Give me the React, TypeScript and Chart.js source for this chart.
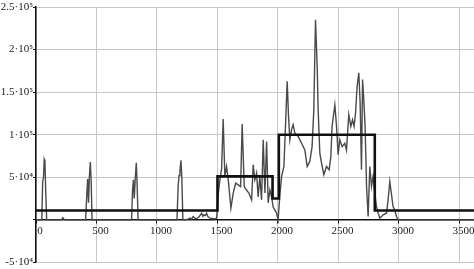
import React, { useEffect, useRef } from "react";
import { Chart, registerables } from "chart.js";

Chart.register(...registerables);

// Measured signal (gray trace)
const signalX = [
  0, 48, 55, 62, 68, 74, 80, 88, 210, 222, 235,
  410, 420, 427, 434, 441, 449, 456, 463,
  790, 798, 805, 812, 820, 829, 836, 844,
  1165, 1175, 1182, 1190, 1198, 1205, 1214,
  1240, 1260, 1272, 1285, 1299, 1313, 1327, 1345, 1360, 1369, 1380, 1388, 1400, 1410, 1420, 1437, 1460, 1479, 1493,
  1506, 1520, 1534, 1547, 1561, 1575, 1589, 1611, 1630, 1650, 1671, 1691, 1704, 1721, 1740, 1759, 1782, 1795,
  1809, 1823, 1836, 1850, 1864, 1878, 1892, 1906, 1919, 1933, 1947, 1960, 1974, 1988, 2001,
  2016, 2030, 2049, 2065, 2076, 2087, 2098, 2112, 2125, 2139, 2167, 2195, 2222, 2241, 2263, 2282, 2296,
  2310, 2324, 2332, 2346, 2360, 2379, 2401, 2423, 2437, 2447, 2470, 2484, 2497, 2511, 2530, 2552, 2566,
  2585, 2602, 2616, 2629, 2641, 2654, 2668, 2679, 2690, 2699, 2709, 2720, 2732, 2745, 2759, 2773, 2786,
  2800, 2814, 2828, 2842, 2869, 2897, 2910, 2924, 2938, 2951, 2965, 2979, 2993, 3620,
];
const signalY = [
  0, 0, 45000, 50000, 71000, 68000, 35000, 0, 0, 2500, 0,
  0, 30000, 48000, 20000, 50000, 68000, 45000, 0,
  0, 35000, 47000, 25000, 48000, 67000, 40000, 0,
  0, 40000, 52000, 58000, 70000, 50000, 0,
  0, 1000, 2000, 1000, 3900, 2000, 1500, 3000, 6000, 7800, 4000, 6000, 5000, 7800, 4000, 2000, 1500, 1000, 2000,
  30000, 47000, 60000, 118500, 51000, 62700, 47000, 13800, 31400, 43000, 41000, 39000, 112600, 39000, 35000, 31500, 23500, 64700,
  47000, 55000, 27000, 51000, 23500, 94000, 31500, 92000, 20000, 35000, 27000, 15000, 11700, 7800, 0,
  30000, 51000, 62700, 121500, 162700, 121500, 94000, 106000, 111800, 102000, 98000, 90000, 82000, 62700, 68600, 86000, 129000,
  235000, 180000, 129000, 78000, 66700, 53000, 62700, 58800, 74500, 109800, 135000, 109800, 76500, 94000, 86000, 90000, 82000,
  123500, 109800, 117600, 109800, 125500, 156800, 172600, 137000, 58800, 164700, 141000, 109800, 39200, 3900, 62700, 39200, 51000,
  31400, 15700, 7800, 2000, 5900, 7800, 23500, 45000, 30000, 15700, 11700, 3900, 0, 0,
];

// Piecewise-constant level (black step trace)
const stepX = [0, 1500, 1955, 2007, 2800, 3620];
const stepY = [11000, 51000, 25000, 100000, 11000, 11000];

const xTickValues = [0, 500, 1000, 1500, 2000, 2500, 3000, 3500];
const xTickLabels = ["0", "500", "1000", "1500", "2000", "2500", "3000", "3500"];
const yTickValues = [-50000, 0, 50000, 100000, 150000, 200000, 250000];
const yTickLabels = ["-5·10⁴", "", "5·10⁴", "1·10⁵", "1.5·10⁵", "2·10⁵", "2.5·10⁵"];

const FONT = "'Liberation Serif', 'Times New Roman', serif";

export default function App() {
  const ref = useRef<HTMLCanvasElement>(null);

  useEffect(() => {
    if (!ref.current) return;
    const chart = new Chart(ref.current, {
      type: "line",
      data: {
        datasets: [
          {
            label: "level",
            data: stepX.map((x, i) => ({ x, y: stepY[i] })),
            borderColor: "#111111",
            borderWidth: 2.6,
            stepped: true,
            pointRadius: 0,
            fill: false,
          },
          {
            label: "signal",
            data: signalX.map((x, i) => ({ x, y: signalY[i] })),
            borderColor: "#4a4a4a",
            borderWidth: 1.4,
            pointRadius: 0,
            tension: 0,
            fill: false,
          },
        ],
      },
      options: {
        animation: false,
        responsive: false,
        devicePixelRatio: 1,
        layout: { padding: { top: 7, bottom: 5, left: 0, right: 0 } },
        plugins: { legend: { display: false }, tooltip: { enabled: false } },
        scales: {
          x: {
            type: "linear",
            position: { y: 0 },
            min: 0,
            max: 3620,
            afterBuildTicks: (s: any) => {
              s.ticks = xTickValues.map((value) => ({ value }));
            },
            grid: { color: "#c8c8c8", lineWidth: 1, tickLength: 3, tickColor: "#111111" },
            border: { color: "#111111", width: 1.5 },
            ticks: {
              autoSkip: false,
              maxRotation: 0,
              labelOffset: 4,
              padding: 2,
              color: "#222222",
              font: { family: FONT, size: 11 },
              callback: (v: any) => {
                const i = xTickValues.indexOf(Number(v));
                return i >= 0 ? xTickLabels[i] : "";
              },
            },
          },
          y: {
            type: "linear",
            position: "left",
            min: -50000,
            max: 250000,
            afterBuildTicks: (s: any) => {
              s.ticks = yTickValues.map((value) => ({ value }));
            },
            afterFit: (s: any) => {
              s.width = 36;
            },
            grid: { color: "#c8c8c8", lineWidth: 1, tickLength: 3, tickColor: "#111111" },
            border: { color: "#111111", width: 1.5 },
            ticks: {
              autoSkip: false,
              padding: 0,
              color: "#222222",
              font: { family: FONT, size: 11 },
              callback: (v: any) => {
                const i = yTickValues.indexOf(Number(v));
                return i >= 0 ? yTickLabels[i] : "";
              },
            },
          },
        },
      },
    });
    return () => chart.destroy();
  }, []);

  return (
    <canvas
      ref={ref}
      width={474}
      height={269}
      style={{ position: "absolute", left: 0, top: 0, width: 474, height: 269 }}
    />
  );
}
